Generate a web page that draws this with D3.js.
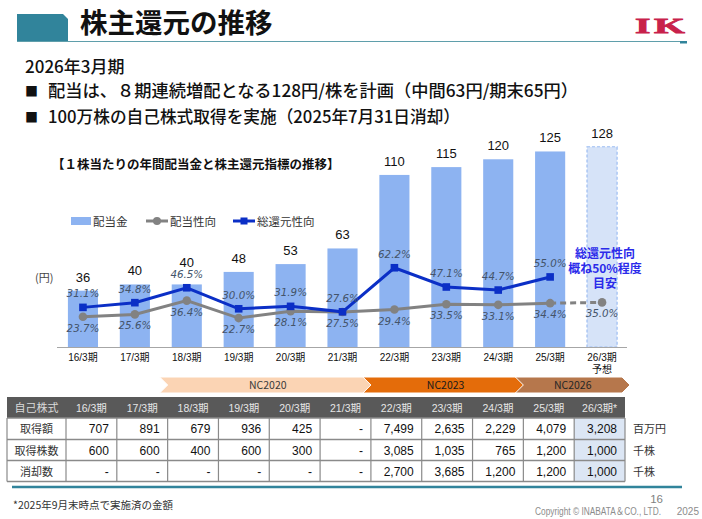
<!DOCTYPE html>
<html>
<head>
<meta charset="UTF-8">
<title>株主還元の推移</title>
<style>
  body { margin:0; background:#fff; }
  svg { display:block; font-family:"Noto Sans CJK JP", sans-serif; }
  .num { font-family:"Liberation Sans", "Noto Sans CJK JP", sans-serif; }
  .pct { font-family:"DejaVu Sans", sans-serif; font-style:italic; font-size:10.3px; fill:#44546a; text-anchor:middle; }
</style>
<script src="https://d3js.org/d3.v7.min.js"></script>
</head>
<body>
<svg width="702" height="519"></svg>
<script>
// ---- data
var periods = ["16/3期","17/3期","18/3期","19/3期","20/3期","21/3期","22/3期","23/3期","24/3期","25/3期","26/3期"];
var dividend = [36, 40, 40, 48, 53, 63, 110, 115, 120, 125, 128];
var payoutRatio = [23.7, 25.6, 36.4, 22.7, 28.1, 27.5, 29.4, 33.5, 33.1, 34.4, 35.0];
var totalReturnRatio = [31.1, 34.8, 46.5, 30.0, 31.9, 27.6, 62.2, 47.1, 44.7, 55.0];
var forecastPeriod = "26/3期";

var tableHead = ["16/3期","17/3期","18/3期","19/3期","20/3期","21/3期","22/3期","23/3期","24/3期","25/3期","26/3期*"];
var rowLabels = ["取得額", "取得株数", "消却数"];
var rowUnits = ["百万円", "千株", "千株"];
var buybackAmount = [707, 891, 679, 936, 425, null, 7499, 2635, 2229, 4079, 3208];
var buybackShares = [600, 600, 400, 600, 300, null, 3085, 1035, 765, 1200, 1000];
var retiredShares = [null, null, null, null, null, null, 2700, 3685, 1200, 1200, 1000];

var planNames = ["NC2020", "NC2023", "NC2026"];
var planStart = ["18/3期", "22/3期", "25/3期"];
var planEnd = ["21/3期", "24/3期", "26/3期"];

var svg = d3.select("svg");

// ---- header
svg.append("path").attr("d", "M17,14H63L68,19V42H17Z").attr("fill", "#31849b");
svg.append("line").attr("x1", 17).attr("x2", 687).attr("y1", 41.5).attr("y2", 41.5)
   .attr("stroke", "#5f9eab").attr("stroke-width", 1.2);
svg.append("rect").attr("x", 680).attr("y", 41).attr("width", 7).attr("height", 2.5).attr("fill", "#31849b");
svg.append("text").attr("x", 80).attr("y", 33).attr("font-size", 27.5).attr("font-weight", "bold")
   .attr("fill", "#111").text("株主還元の推移");
svg.append("text").attr("transform", "translate(635,33) scale(1.8,1)")
   .attr("font-family", "Liberation Serif, DejaVu Serif, serif")
   .attr("font-weight", "bold").attr("font-size", 22).attr("letter-spacing", 2)
   .attr("fill", "#c8214b").attr("stroke", "#c8214b").attr("stroke-width", 0.8)
   .text("IK");

svg.append("text").attr("x", 25).attr("y", 73).attr("font-size", 17).attr("font-weight", 500)
   .attr("fill", "#111").text("2026年3月期");
var bullets = [
  {t: "配当は、８期連続増配となる128円/株を計画（中間63円/期末65円）", y: 97, w: 530},
  {t: "100万株の自己株式取得を実施（2025年7月31日消却）", y: 123, w: 412}
];
bullets.forEach(function(b) {
  svg.append("text").attr("x", 25).attr("y", b.y - 1).attr("font-size", 13).attr("fill", "#111").text("■");
  svg.append("text").attr("x", 48).attr("y", b.y).attr("font-size", 17).attr("font-weight", 500)
     .attr("fill", "#111").attr("textLength", b.w).attr("lengthAdjust", "spacingAndGlyphs").text(b.t);
});

svg.append("text").attr("x", 52).attr("y", 168.5).attr("font-size", 12.5).attr("font-weight", "bold")
   .attr("fill", "#111").text("【１株当たりの年間配当金と株主還元指標の推移】");

// ---- chart scales
var x = d3.scaleBand().domain(periods).range([57, 628]).paddingInner(0.42).paddingOuter(0.21);
var bw = x.bandwidth();
var cx = function(p) { return x(p) + bw / 2; };
var y = d3.scaleLinear().domain([0, 140]).range([347, 128]);
var y2 = d3.scaleLinear().domain([0, 100]).range([347, 219.6]);

var barColor = "#8db3f1";
var chart = svg.append("g");

chart.selectAll("rect.bar").data(periods).enter().append("rect")
  .attr("class", "bar")
  .attr("x", d => x(d))
  .attr("y", (d, i) => y(dividend[i]))
  .attr("width", bw)
  .attr("height", (d, i) => y(0) - y(dividend[i]))
  .attr("fill", d => d === forecastPeriod ? "#d6e3f8" : barColor)
  .attr("stroke", d => d === forecastPeriod ? "#9dbdf2" : "none")
  .attr("stroke-dasharray", "3,2")
  .attr("stroke-width", 1.2);

// value labels sit above the bar, or above the ratio label when that is in the way
chart.selectAll("text.val").data(periods).enter().append("text")
  .attr("class", "num")
  .attr("x", d => cx(d))
  .attr("y", function(d, i) {
    var yb = y(dividend[i]) - 9;
    if (i < totalReturnRatio.length) yb = Math.min(yb, y2(totalReturnRatio[i]) - 21);
    return yb;
  })
  .attr("text-anchor", "middle").attr("font-size", 13).attr("fill", "#111")
  .text((d, i) => dividend[i]);

// axis line + category labels
chart.append("line").attr("x1", 57).attr("x2", 627).attr("y1", 347.5).attr("y2", 347.5)
  .attr("stroke", "#a6a6a6").attr("stroke-width", 1.2);
var xAxis = chart.append("g").attr("transform", "translate(0,347)")
  .call(d3.axisBottom(x).tickSize(0).tickPadding(7));
xAxis.select(".domain").remove();
xAxis.selectAll("text").attr("class", "num").attr("font-size", 10).attr("fill", "#111");
chart.append("text").attr("x", cx(forecastPeriod)).attr("y", 373).attr("text-anchor", "middle")
  .attr("font-size", 10).attr("fill", "#111").text("予想");

chart.append("text").attr("x", 35).attr("y", 282).attr("font-size", 11).attr("fill", "#444")
  .text("(円)");

// payout ratio line (gray) and total return ratio line (blue)
var gray = "#828282", blue = "#0b2fc6";
var line = d3.line().x(d => cx(d.p)).y(d => y2(d.v));
var payPts = periods.map((p, i) => ({p: p, v: payoutRatio[i]}));
var totPts = totalReturnRatio.map((v, i) => ({p: periods[i], v: v}));
chart.append("path").attr("d", line(payPts.slice(0, 10))).attr("fill", "none")
  .attr("stroke", gray).attr("stroke-width", 3);
chart.append("path").attr("d", line(payPts.slice(9))).attr("fill", "none")
  .attr("stroke", gray).attr("stroke-width", 3).attr("stroke-dasharray", "6,4");
chart.selectAll("circle.pay").data(payPts).enter().append("circle")
  .attr("cx", d => cx(d.p)).attr("cy", d => y2(d.v)).attr("r", 4.3).attr("fill", gray);

chart.append("path").attr("d", line(totPts)).attr("fill", "none")
  .attr("stroke", blue).attr("stroke-width", 3);
chart.selectAll("rect.tot").data(totPts).enter().append("rect")
  .attr("x", d => cx(d.p) - 3.8).attr("y", d => y2(d.v) - 3.8)
  .attr("width", 7.6).attr("height", 7.6).attr("fill", blue);

chart.selectAll("text.totl").data(totPts).enter().append("text")
  .attr("class", "pct").attr("x", d => cx(d.p)).attr("y", d => y2(d.v) - 10)
  .text(d => d.v.toFixed(1) + "%");
chart.selectAll("text.payl").data(payPts).enter().append("text")
  .attr("class", "pct").attr("x", d => cx(d.p)).attr("y", d => y2(d.v) + 15)
  .text(d => d.v.toFixed(1) + "%");

// target note
var note = ["総還元性向", "概ね50%程度", "目安"];
chart.selectAll("text.note").data(note).enter().append("text")
  .attr("x", 605).attr("y", (d, i) => 258 + i * 15)
  .attr("text-anchor", "middle").attr("font-size", 12).attr("font-weight", "bold")
  .attr("fill", "#2b2bea").text(d => d);

// legend
var lg = svg.append("g").attr("font-size", 11.5).attr("fill", "#333");
lg.append("rect").attr("x", 71).attr("y", 217).attr("width", 20).attr("height", 8).attr("fill", barColor);
lg.append("text").attr("x", 93).attr("y", 225.5).text("配当金");
lg.append("line").attr("x1", 146).attr("x2", 168).attr("y1", 221).attr("y2", 221).attr("stroke", gray).attr("stroke-width", 3);
lg.append("circle").attr("cx", 157).attr("cy", 221).attr("r", 4).attr("fill", gray);
lg.append("text").attr("x", 170).attr("y", 225.5).text("配当性向");
lg.append("line").attr("x1", 233).attr("x2", 255).attr("y1", 221).attr("y2", 221).attr("stroke", blue).attr("stroke-width", 3);
lg.append("rect").attr("x", 240.5).attr("y", 217.5).attr("width", 7).attr("height", 7).attr("fill", blue);
lg.append("text").attr("x", 257).attr("y", 225.5).text("総還元性向");

// ---- table
var xt = d3.scaleBand().domain(periods).range([66, 625]);
var tw = xt.bandwidth();
var rowTop = [397, 418, 439.5, 460.5], rowBot = 481.5;

// plan banners
var planFill = ["#fbd4b4", "#e46c0a", "#b6774c"];
var planText = ["#3a3a3a", "#1a1a1a", "#262626"];
var bannerY0 = 377, bannerY1 = 393, dep = 8;
planNames.forEach(function(n, i) {
  var xs = xt(planStart[i]) - dep, xe = xt(planEnd[i]) + tw - 3, ym = (bannerY0 + bannerY1) / 2;
  svg.append("path")
    .attr("d", "M" + xs + "," + bannerY0 + "H" + xe + "L" + (xe + dep) + "," + ym + "L" + xe + "," + bannerY1 +
               "H" + xs + "L" + (xs + dep) + "," + ym + "Z")
    .attr("fill", planFill[i]).attr("stroke", "#fff").attr("stroke-width", 1);
  svg.append("text").attr("x", (xs + xe + dep) / 2).attr("y", 389).attr("text-anchor", "middle")
    .attr("font-size", 10.5).attr("fill", planText[i]).text(n);
});

var tbl = svg.append("g");
tbl.append("rect").attr("x", 7).attr("y", rowTop[0]).attr("width", 618).attr("height", rowTop[1] - rowTop[0]).attr("fill", "#595959");
tbl.append("text").attr("x", 36.5).attr("y", 411.5).attr("text-anchor", "middle").attr("font-size", 11)
  .attr("fill", "#d9d9d9").text("自己株式");
tbl.selectAll("text.hd").data(tableHead).enter().append("text")
  .attr("class", "num").attr("x", (d, i) => xt(periods[i]) + tw / 2).attr("y", 411.5)
  .attr("text-anchor", "middle").attr("font-size", 10.5).attr("fill", "#e6e6e6").text(d => d);

tbl.append("rect").attr("x", xt(forecastPeriod)).attr("y", rowTop[1]).attr("width", tw)
  .attr("height", rowBot - rowTop[1]).attr("fill", "#dce6f4");

var rows = [buybackAmount, buybackShares, retiredShares];
var fmt = d3.format(",");
rows.forEach(function(r, k) {
  var top = rowTop[k + 1], bot = k < 2 ? rowTop[k + 2] : rowBot, base = (top + bot) / 2 + 4.5;
  tbl.append("text").attr("x", 36.5).attr("y", base).attr("text-anchor", "middle")
    .attr("font-size", 11).attr("fill", "#333").text(rowLabels[k]);
  tbl.selectAll("text.r" + k).data(r).enter().append("text")
    .attr("class", "num").attr("x", (d, i) => xt(periods[i]) + tw - 8).attr("y", base)
    .attr("text-anchor", "end").attr("font-size", 12).attr("fill", "#111")
    .text(d => d == null ? "-" : fmt(d));
  tbl.append("text").attr("x", 633).attr("y", base).attr("font-size", 11).attr("fill", "#333").text(rowUnits[k]);
});

// grid lines
var gridC = "#8a8a8a";
[rowTop[1], rowTop[2], rowTop[3], rowBot].forEach(function(v) {
  tbl.append("line").attr("x1", 7).attr("x2", 625).attr("y1", v).attr("y2", v).attr("stroke", gridC).attr("stroke-width", 1.5);
});
[7, 66].concat(periods.map(p => xt(p) + tw)).forEach(function(v) {
  tbl.append("line").attr("x1", v).attr("x2", v).attr("y1", rowTop[1]).attr("y2", rowBot).attr("stroke", gridC).attr("stroke-width", 1.2);
});

// ---- footer
svg.append("line").attr("x1", 12).attr("x2", 682).attr("y1", 487).attr("y2", 487)
  .attr("stroke", "#31849b").attr("stroke-width", 2.5);
svg.append("text").attr("x", 13).attr("y", 509).attr("font-size", 10.5).attr("fill", "#333")
  .text("*2025年9月末時点で実施済の金額");
svg.append("text").attr("class", "num").attr("x", 663).attr("y", 503).attr("text-anchor", "end")
  .attr("font-size", 11.5).attr("fill", "#7f7f7f").text("16");
svg.append("text").attr("class", "num").attr("x", 535).attr("y", 515).attr("font-size", 10)
  .attr("fill", "#8c8c8c").attr("textLength", 126).attr("lengthAdjust", "spacingAndGlyphs")
  .text("Copyright © INABATA＆CO., LTD.");
svg.append("text").attr("class", "num").attr("x", 699).attr("y", 515).attr("text-anchor", "end")
  .attr("font-size", 10).attr("fill", "#8c8c8c").text("2025");
</script>
</body>
</html>
